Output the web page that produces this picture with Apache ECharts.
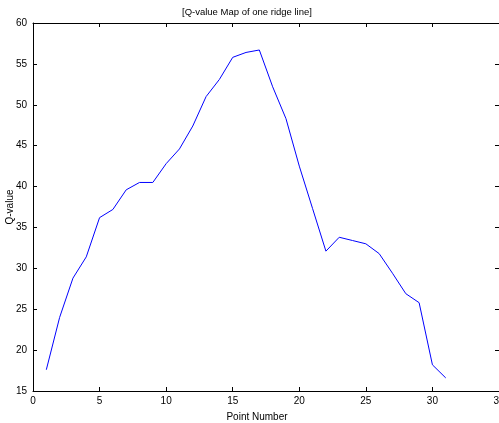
<!DOCTYPE html>
<html>
<head>
<meta charset="utf-8">
<script src="https://cdn.jsdelivr.net/npm/echarts@6/dist/echarts.min.js"></script>
<style>
  html, body { margin: 0; padding: 0; background: #fff; }
  #main { width: 499px; height: 423px; }
</style>
</head>
<body>
<div id="main"></div>
<script>
// point numbers and Q-values
var pointNumbers = [1, 2, 3, 4, 5, 6, 7, 8, 9, 10, 11, 12, 13, 14, 15, 16,
  17, 18, 19, 20, 21, 22, 23, 24, 25, 26, 27, 28, 29, 30, 31];
var qValues = [17.6, 24.0, 28.8, 31.4, 36.2, 37.2, 39.6, 40.5, 40.5, 42.8, 44.6,
  47.4, 51.0, 53.1, 55.8, 56.4, 56.7, 52.2, 48.3, 42.5, 37.3, 32.1, 33.8,
  33.4, 33.0, 31.8, 29.4, 26.9, 25.8, 18.2, 16.6];

var chart = echarts.init(document.getElementById('main'));

var font = 'Liberation Sans, Arial, sans-serif';
var axisCommon = {
  axisLine: { show: true, onZero: false, lineStyle: { color: '#000', width: 1 } },
  axisTick: { show: true, inside: true, length: 4, lineStyle: { color: '#000' } },
  splitLine: { show: false }
};

var option = {
  animation: false,
  title: {
    text: '[Q-value Map of one ridge line]',
    left: 182,
    top: 7,
    padding: 0,
    textStyle: { fontFamily: font, fontSize: 9.5, fontWeight: 'normal', color: '#000' }
  },
  grid: { left: 33, right: 0, top: 23, bottom: 32, outerBoundsMode: 'none', containLabel: false },
  xAxis: [
    Object.assign({
      type: 'value', min: 0, max: 35, interval: 5, position: 'bottom',
      name: 'Point Number', nameLocation: 'middle', nameGap: 21, nameMoveOverlap: false,
      nameTextStyle: { fontFamily: font, fontSize: 10, color: '#000', padding: [0, 18, 0, 0] },
      axisLabel: { fontFamily: font, fontSize: 10, color: '#000', margin: 5 }
    }, axisCommon),
    Object.assign({
      type: 'value', min: 0, max: 35, interval: 5, position: 'top',
      axisLabel: { show: false }
    }, axisCommon)
  ],
  yAxis: [
    Object.assign({
      type: 'value', min: 15, max: 60, interval: 5, position: 'left',
      name: 'Q-value', nameLocation: 'middle', nameGap: 18, nameMoveOverlap: false,
      nameTextStyle: { fontFamily: font, fontSize: 10, color: '#000' },
      axisLabel: { fontFamily: font, fontSize: 10, color: '#000', margin: 6 }
    }, axisCommon),
    Object.assign({
      type: 'value', min: 15, max: 60, interval: 5, position: 'right',
      axisLabel: { show: false }
    }, axisCommon)
  ],
  series: [
    {
      type: 'line',
      xAxisIndex: 0,
      yAxisIndex: 0,
      showSymbol: false,
      lineStyle: { color: '#0000ff', width: 1 },
      data: pointNumbers.map(function (x, i) { return [x, qValues[i]]; })
    }
  ]
};

chart.setOption(option);
</script>
</body>
</html>
